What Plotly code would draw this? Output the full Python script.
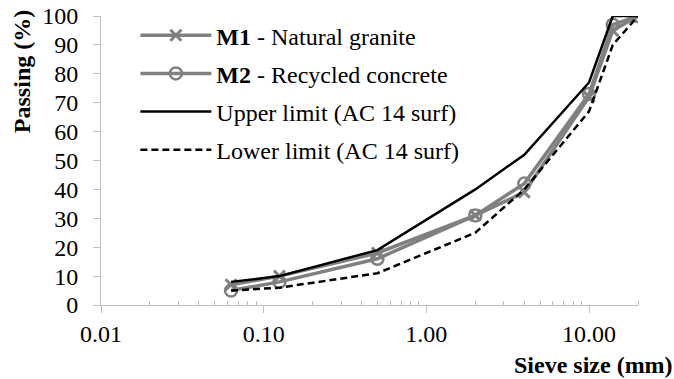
import plotly.graph_objects as go

sieve_mm = [0.063, 0.125, 0.5, 2, 4, 10, 14, 20]
m1_natural_granite = [7, 10, 18, 31, 39, 72, 95, 100]
m2_recycled_concrete = [5, 8, 16, 31, 42, 73, 97, 100]
upper_limit = [8, 10, 19, 40, 52, 77, 100, 100]
lower_limit = [5, 6, 11, 25, 40, 67, 90, 100]

x_tickvals = [0.01, 0.1, 1, 10]
x_ticktext = ["0.01", "0.10", "1.00", "10.00"]

GRAY = "#808080"
AXIS = "#bfbfbf"
FONT = "Liberation Serif"

fig = go.Figure()
fig.add_trace(go.Scatter(
    x=sieve_mm, y=m1_natural_granite, mode="lines+markers",
    name="<b>M1</b> - Natural granite", legendgroup="a",
    line=dict(color=GRAY, width=3.5),
    marker=dict(symbol="x-thin-open", size=11, color=GRAY, line=dict(color=GRAY, width=3)),
))
fig.add_trace(go.Scatter(
    x=sieve_mm, y=m2_recycled_concrete, mode="lines+markers",
    name="<b>M2</b> - Recycled concrete", legendgroup="b",
    line=dict(color=GRAY, width=3.5),
    marker=dict(symbol="circle-open", size=12, color=GRAY, line=dict(color=GRAY, width=2.5)),
))
fig.add_trace(go.Scatter(
    x=sieve_mm, y=upper_limit, mode="lines",
    name="Upper limit (AC 14 surf)", legendgroup="c",
    line=dict(color="black", width=2.5),
))
fig.add_trace(go.Scatter(
    x=sieve_mm, y=lower_limit, mode="lines",
    name="Lower limit (AC 14 surf)", legendgroup="d",
    line=dict(color="black", width=2.5, dash="7px,4px"),
))

fig.update_layout(
    width=674, height=379,
    margin=dict(l=101, r=36, t=16, b=74, autoexpand=False),
    plot_bgcolor="white", paper_bgcolor="white",
    font=dict(family=FONT, size=24, color="black"),
    showlegend=True,
    legend=dict(
        x=0.064, y=1.01, xanchor="left", yanchor="top",
        bgcolor="rgba(0,0,0,0)", font=dict(size=24, family=FONT),
        tracegroupgap=4, itemwidth=71,
    ),
    xaxis=dict(
        type="log", range=[-2, 1.30103], automargin=False,
        tickvals=x_tickvals, ticktext=x_ticktext,
        showgrid=False, zeroline=False,
        showline=True, linecolor=AXIS, linewidth=1,
        ticks="outside", ticklen=7, tickcolor=AXIS,
        tickfont=dict(size=24, family=FONT),
        ticklabeloverflow="allow",
        minor=dict(ticks="inside", ticklen=4, tickcolor=AXIS,
                   tickvals=[k * 10 ** e for e in (-2, -1, 0, 1) for k in range(2, 10) if k * 10 ** e <= 20.01],
                   showgrid=False),
    ),
    yaxis=dict(
        range=[0, 100], dtick=10, automargin=False,
        showgrid=False, zeroline=False,
        showline=True, linecolor=AXIS, linewidth=1,
        ticks="outside", ticklen=7, tickcolor=AXIS,
        ticklabelstandoff=10, ticklabeloverflow="allow",
        tickfont=dict(size=24, family=FONT),
    ),
    annotations=[
        dict(text="<b>Passing (%)</b>", textangle=-90, xref="paper", yref="paper",
             x=-0.147, y=0.806, xanchor="center", yanchor="middle", showarrow=False,
             font=dict(size=24, family=FONT)),
        dict(text="<b>Sieve size (mm)</b>", xref="paper", yref="paper",
             x=0.765, y=-0.208, xanchor="left", yanchor="middle", showarrow=False,
             font=dict(size=24, family=FONT)),
    ],
)

fig.write_html("out.html", config={"displayModeBar": False},
               post_script="document.body.style.margin='0';")
